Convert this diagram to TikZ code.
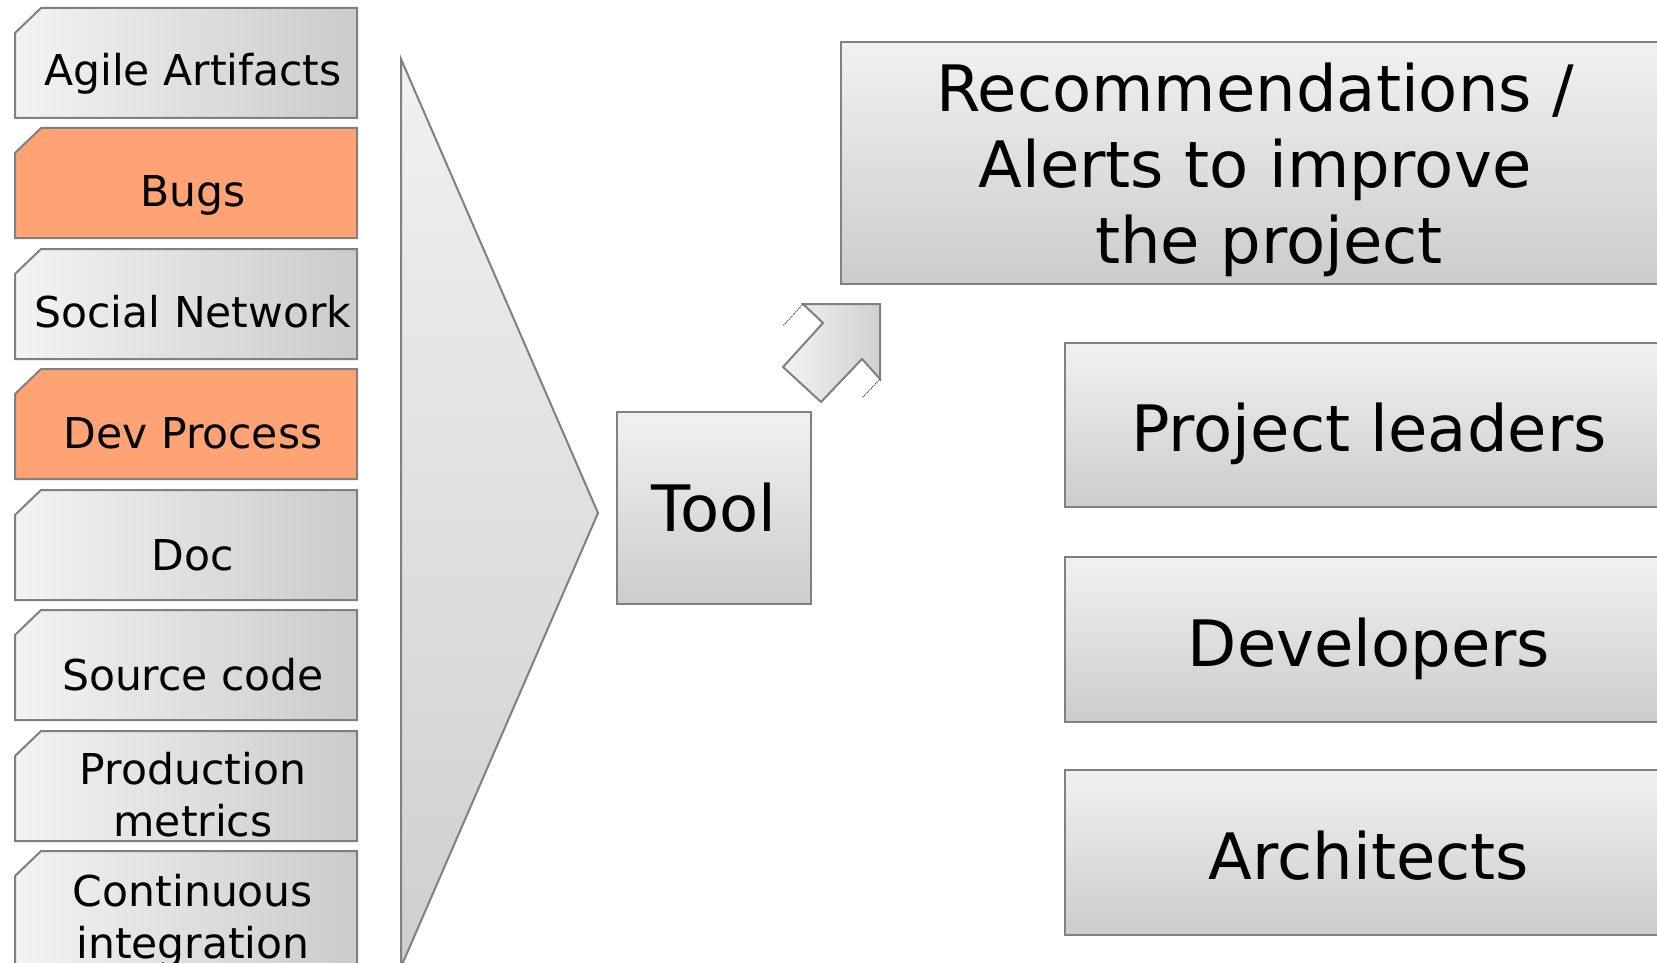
\documentclass[tikz,border=0pt]{standalone}
\usepackage{fontspec}
\setmainfont{DejaVu Sans}

\definecolor{boxlight}{HTML}{F3F3F3}
\definecolor{boxdark}{HTML}{CBCBCB}
\definecolor{edgegray}{HTML}{808080}
\definecolor{bugorange}{HTML}{FFA374}
\definecolor{outlight}{HTML}{F1F1F1}
\definecolor{outdark}{HTML}{CCCCCC}

\begin{document}
\begin{tikzpicture}
  [x=1pt,y=-1pt,
  srcbox/.style={draw=edgegray,line width=2pt,left color=boxlight,right color=boxdark},
  hotbox/.style={draw=edgegray,line width=2pt,fill=bugorange},
  srclabel/.style={font=\fontsize{42.5}{52}\selectfont,inner sep=0pt,align=center},
  funnel/.style={draw=edgegray,line width=2pt,top color=outlight,bottom color=outdark!95},
  outbox/.style={draw=edgegray,line width=2pt,top color=outlight,bottom color=outdark,inner sep=0pt,
    font=\fontsize{64}{75}\selectfont,text height=53pt,text depth=0pt},
  outarrow/.style={draw=edgegray,line width=2pt,left color=boxlight,right color=boxdark!90},
  ghost/.style={densely dotted,line width=1pt,draw=black!75}]
  \useasboundingbox (0,0) rectangle (1657,963);
  \clip (0,0) rectangle (1657,963);

  % data sources
  \path[srcbox] (15,33) -- (41,8) -- (357,8) -- (357,118) -- (15,118) -- cycle;
  \path[hotbox] (15,153) -- (41,128) -- (357,128) -- (357,238) -- (15,238) -- cycle;
  \path[srcbox] (15,274) -- (41,249) -- (357,249) -- (357,359) -- (15,359) -- cycle;
  \path[hotbox] (15,394) -- (41,369) -- (357,369) -- (357,479) -- (15,479) -- cycle;
  \path[srcbox] (15,515) -- (41,490) -- (357,490) -- (357,600) -- (15,600) -- cycle;
  \path[srcbox] (15,635) -- (41,610) -- (357,610) -- (357,720) -- (15,720) -- cycle;
  \path[srcbox] (15,756) -- (41,731) -- (357,731) -- (357,841) -- (15,841) -- cycle;
  \path[srcbox] (15,876) -- (41,851) -- (357,851) -- (357,975) -- (15,975) -- cycle;

  \node[srclabel,anchor=base] (agile) at (193,86) {Agile Artifacts};
  \node[srclabel,anchor=base] (bugs) at (193,206) {Bugs};
  \node[srclabel,anchor=base] (social) at (193,327) {Social Network};
  \node[srclabel,anchor=base] (devproc) at (193,448) {Dev Process};
  \node[srclabel,anchor=base] (doc) at (193,570) {Doc};
  \node[srclabel,anchor=base] (source) at (193,690) {Source code};
  \node[srclabel] (prod) at (193,795) {Production\\metrics};
  \node[srclabel] (ci) at (193,921) {Continuous\\integration};

  % funnel and tool
  \path[funnel] (401,59) -- (598,513) -- (401,967) -- cycle;
  \node[outbox,text height=46pt,minimum width=194pt,minimum height=192pt] (tool) at (714,508) {Tool};

  % output arrow
  \path[outarrow] (803,304) -- (880,304) -- (880,379) -- (862,359) -- (821,402) -- (783,367) -- (823,323) -- cycle;
  \draw[ghost] (803,304) -- (783,326);
  \draw[ghost] (880,379) -- (862,398);

  % results
  \node[outbox,anchor=north west,minimum width=840pt,minimum height=242pt] (recbox) at (840,41) {};
  \node[font=\fontsize{64}{76}\selectfont,align=center,inner sep=0pt] (rectext) at (1255,170)
    {Recommendations /\\Alerts to improve\\\hspace*{28pt}the project};
  \node[outbox,minimum width=608pt,minimum height=164pt] (leaders) at (1369,425) {Project leaders};
  \node[outbox,minimum width=608pt,minimum height=165pt] (devs) at (1369,639.5) {Developers};
  \node[outbox,minimum width=608pt,minimum height=165pt] (archs) at (1369,852.5) {Architects};
\end{tikzpicture}
\end{document}
